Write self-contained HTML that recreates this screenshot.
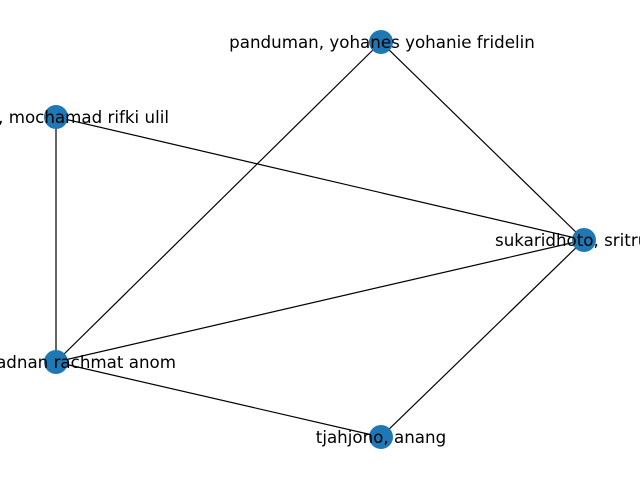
<!DOCTYPE html>
<html><head><style>html,body{margin:0;padding:0;background:#fff;overflow:hidden}</style></head>
<body>
<svg width="640" height="480" xmlns="http://www.w3.org/2000/svg">
<g stroke="#000" stroke-width="1.2">
<line x1="381" y1="42" x2="584" y2="240"/>
<line x1="381" y1="42" x2="56" y2="362"/>
<line x1="56" y1="117" x2="584" y2="240"/>
<line x1="56" y1="117" x2="56" y2="362"/>
<line x1="56" y1="362" x2="584" y2="240"/>
<line x1="56" y1="362" x2="381" y2="437"/>
<line x1="584" y1="240" x2="381" y2="437"/>
</g>
<g fill="#1f77b4">
<circle cx="381" cy="42" r="12"/>
<circle cx="56" cy="117" r="12"/>
<circle cx="584" cy="240" r="12"/>
<circle cx="56" cy="362" r="12"/>
<circle cx="381" cy="437" r="12"/>
</g>
<g font-family="DejaVu Sans, sans-serif" font-size="16.7" fill="#000">
<text x="382" y="48" text-anchor="middle">panduman, yohanes yohanie fridelin</text>
<text x="169" y="123" text-anchor="end">, mochamad rifki ulil</text>
<text x="495" y="246">sukaridhoto, sritrusta</text>
<text x="176" y="368" text-anchor="end">adnan rachmat anom</text>
<text x="381" y="443" text-anchor="middle">tjahjono, anang</text>
</g>
</svg>
</body></html>
